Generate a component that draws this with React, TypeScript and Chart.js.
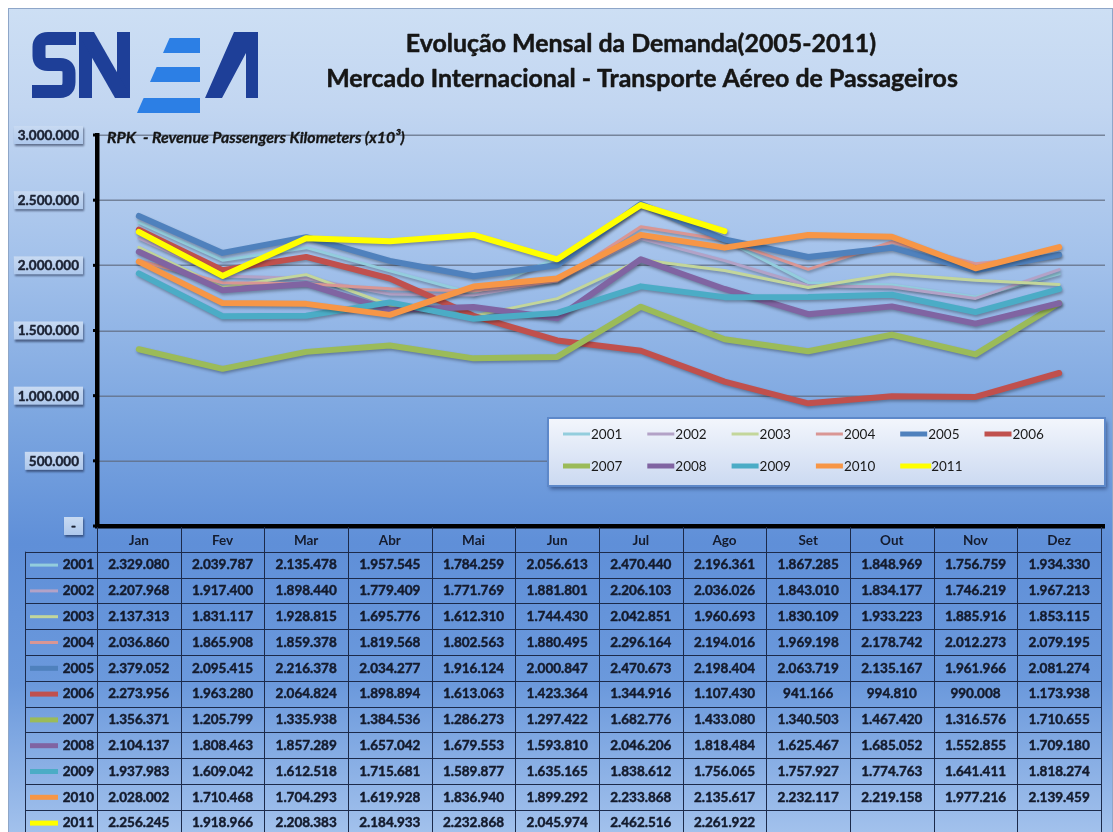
import React, { useEffect, useRef } from "react";
import { Chart, registerables } from "chart.js";

Chart.register(...registerables);

// ---------- DATA ----------
const months = ["Jan", "Fev", "Mar", "Abr", "Mai", "Jun", "Jul", "Ago", "Set", "Out", "Nov", "Dez"];
const years = ["2001", "2002", "2003", "2004", "2005", "2006", "2007", "2008", "2009", "2010", "2011"];

const v2001 = [2329080, 2039787, 2135478, 1957545, 1784259, 2056613, 2470440, 2196361, 1867285, 1848969, 1756759, 1934330];
const v2002 = [2207968, 1917400, 1898440, 1779409, 1771769, 1881801, 2206103, 2036026, 1843010, 1834177, 1746219, 1967213];
const v2003 = [2137313, 1831117, 1928815, 1695776, 1612310, 1744430, 2042851, 1960693, 1830109, 1933223, 1885916, 1853115];
const v2004 = [2036860, 1865908, 1859378, 1819568, 1802563, 1880495, 2296164, 2194016, 1969198, 2178742, 2012273, 2079195];
const v2005 = [2379052, 2095415, 2216378, 2034277, 1916124, 2000847, 2470673, 2198404, 2063719, 2135167, 1961966, 2081274];
const v2006 = [2273956, 1963280, 2064824, 1898894, 1613063, 1423364, 1344916, 1107430, 941166, 994810, 990008, 1173938];
const v2007 = [1356371, 1205799, 1335938, 1384536, 1286273, 1297422, 1682776, 1433080, 1340503, 1467420, 1316576, 1710655];
const v2008 = [2104137, 1808463, 1857289, 1657042, 1679553, 1593810, 2046206, 1818484, 1625467, 1685052, 1552855, 1709180];
const v2009 = [1937983, 1609042, 1612518, 1715681, 1589877, 1635165, 1838612, 1756065, 1757927, 1774763, 1641411, 1818274];
const v2010 = [2028002, 1710468, 1704293, 1619928, 1836940, 1899292, 2233868, 2135617, 2232117, 2219158, 1977216, 2139459];
const v2011 = [2256245, 1918966, 2208383, 2184933, 2232868, 2045974, 2462516, 2261922, null, null, null, null];

const seriesValues = [v2001, v2002, v2003, v2004, v2005, v2006, v2007, v2008, v2009, v2010, v2011];

const yMin = 0;
const yMax = 3000000;
const yStep = 500000;

const titleLines = [
  "Evolução Mensal da Demanda(2005-2011)",
  "Mercado Internacional - Transporte Aéreo de Passageiros",
];
const subtitleText = "RPK  - Revenue Passengers Kilometers (x10³)";

// ---------- STYLES ----------
const seriesColors = [
  "#93CDDD", "#B3A2C7", "#C3D69B", "#D99694", "#4F81BD", "#C0504D",
  "#9BBB59", "#8064A2", "#4BACC6", "#F79646", "#FFFF00",
];
const seriesWidths = [3, 3, 3, 3, 6, 6, 6, 6, 6, 6, 6];

const FONT = "Lato, 'Open Sans', 'DejaVu Sans', sans-serif";
const W = 1105;
const H = 824;

const fmt = (n: number) => String(Math.round(n)).replace(/\B(?=(\d{3})+(?!\d))/g, ".");

// draw text slightly heavier (approximates the chunky Calibri bold of the original)
function heavyText(ctx: CanvasRenderingContext2D, s: string, x: number, y: number, w = 0.45) {
  ctx.fillText(s, x, y);
  ctx.save();
  ctx.strokeStyle = ctx.fillStyle as string;
  ctx.lineWidth = w;
  ctx.lineJoin = "round";
  ctx.strokeText(s, x, y);
  ctx.restore();
}

function drawLogo(ctx: CanvasRenderingContext2D) {
  const dark = "#1e3f98";
  const light = "#2c7fe5";
  ctx.save();
  ctx.translate(-8, -8);
  // S
  ctx.strokeStyle = dark;
  ctx.lineWidth = 13;
  ctx.lineJoin = "round";
  ctx.lineCap = "butt";
  ctx.beginPath();
  ctx.moveTo(76, 38.5);
  ctx.lineTo(48, 38.5);
  ctx.quadraticCurveTo(39, 38.5, 39, 47);
  ctx.lineTo(39, 56);
  ctx.quadraticCurveTo(39, 64.5, 48, 64.5);
  ctx.lineTo(60, 64.5);
  ctx.quadraticCurveTo(69, 64.5, 69, 73);
  ctx.lineTo(69, 82);
  ctx.quadraticCurveTo(69, 91.5, 60, 91.5);
  ctx.lineTo(32, 91.5);
  ctx.stroke();
  // N
  ctx.fillStyle = dark;
  ctx.fillRect(79, 32, 13, 66);
  ctx.fillRect(117, 32, 13, 66);
  ctx.beginPath();
  ctx.moveTo(79, 32);
  ctx.lineTo(94, 32);
  ctx.lineTo(130, 95);
  ctx.lineTo(130, 98);
  ctx.lineTo(115, 98);
  ctx.lineTo(79, 35);
  ctx.closePath();
  ctx.fill();
  // E bars
  ctx.fillStyle = light;
  const bars = [
    [38, 163],
    [67, 150],
    [98, 137],
  ];
  bars.forEach(([y, xl]) => {
    ctx.beginPath();
    ctx.moveTo(xl + 6.6, y);
    ctx.lineTo(200, y);
    ctx.lineTo(200, y + 15);
    ctx.lineTo(xl, y + 15);
    ctx.closePath();
    ctx.fill();
  });
  // Λ
  ctx.fillStyle = dark;
  ctx.beginPath();
  ctx.moveTo(234, 32);
  ctx.lineTo(258, 32);
  ctx.lineTo(258, 98);
  ctx.lineTo(246, 98);
  ctx.lineTo(246, 53);
  ctx.lineTo(222, 98);
  ctx.lineTo(205, 98);
  ctx.closePath();
  ctx.fill();
  ctx.restore();
}

const decorPlugin = {
  id: "decor",
  beforeDraw(chart: any) {
    const ctx: CanvasRenderingContext2D = chart.ctx;
    ctx.save();
    const g = ctx.createLinearGradient(0, 0, 0, H);
    g.addColorStop(0, "#cddff4");
    g.addColorStop(0.12, "#c2d6f1");
    g.addColorStop(0.3, "#a4c2eb");
    g.addColorStop(0.5, "#7ca6e0");
    g.addColorStop(0.65, "#5f8fd8");
    g.addColorStop(0.82, "#6b99dc");
    g.addColorStop(1, "#a2c1ec");
    ctx.fillStyle = g;
    ctx.fillRect(0, 0, W, H);
    ctx.strokeStyle = "#8ea6c8";
    ctx.lineWidth = 1;
    ctx.strokeRect(0.5, 0.5, W - 1, H);
    ctx.restore();

    drawLogo(ctx);

    // Titles
    ctx.save();
    ctx.font = `bold 100px ${FONT}`;
    const w2 = ctx.measureText(titleLines[1]).width;
    const size = (100 * 632) / w2;
    ctx.font = `bold ${size.toFixed(2)}px ${FONT}`;
    ctx.fillStyle = "#161616";
    ctx.textAlign = "center";
    ctx.textBaseline = "middle";
    heavyText(ctx, titleLines[0], 633, 36, 0.5);
    heavyText(ctx, titleLines[1], 634, 71, 0.5);
    ctx.restore();
  },
  beforeDatasetsDraw(chart: any) {
    const ctx: CanvasRenderingContext2D = chart.ctx;
    const y = chart.scales.y;
    const area = chart.chartArea;
    ctx.save();
    ctx.strokeStyle = "rgba(95,105,125,0.75)";
    ctx.lineWidth = 1.5;
    y.ticks.forEach((t: any) => {
      if (t.value === 0) return;
      const py = Math.round(y.getPixelForValue(t.value)) + 0.25;
      ctx.beginPath();
      ctx.moveTo(area.left, py);
      ctx.lineTo(1097, py);
      ctx.stroke();
    });
    // subtitle
    ctx.font = `italic bold 100px ${FONT}`;
    const sw = ctx.measureText(subtitleText).width;
    const ss = (100 * 298) / sw;
    ctx.font = `italic bold ${ss.toFixed(2)}px ${FONT}`;
    ctx.fillStyle = "#151515";
    ctx.textBaseline = "middle";
    ctx.textAlign = "left";
    heavyText(ctx, subtitleText, 99, 130, 0.3);
    ctx.restore();
  },
  beforeDatasetDraw(chart: any) {
    const ctx: CanvasRenderingContext2D = chart.ctx;
    ctx.save();
    ctx.shadowColor = "rgba(0,0,0,0.3)";
    ctx.shadowBlur = 3;
    ctx.shadowOffsetX = 1;
    ctx.shadowOffsetY = 2;
  },
  afterDatasetDraw(chart: any) {
    chart.ctx.restore();
  },
  afterDatasetsDraw(chart: any) {
    const ctx: CanvasRenderingContext2D = chart.ctx;
    const y = chart.scales.y;
    const x = chart.scales.x;
    const area = chart.chartArea;
    ctx.save();

    // Y tick label boxes
    ctx.font = `bold 13.5px ${FONT}`;
    y.ticks.forEach((t: any) => {
      const py = y.getPixelForValue(t.value);
      const label = t.value === 0 ? "-" : fmt(t.value);
      const tw = ctx.measureText(label).width;
      const bw = t.value === 0 ? 19 : tw + 8;
      const bx = 75 - bw;
      const by = py - 9;
      ctx.save();
      ctx.shadowColor = "rgba(20,30,60,0.55)";
      ctx.shadowBlur = 2;
      ctx.shadowOffsetX = 1;
      ctx.shadowOffsetY = 2;
      const bg = ctx.createLinearGradient(0, by, 0, by + 18);
      bg.addColorStop(0, "#c8daf2");
      bg.addColorStop(1, "#aec8ec");
      ctx.fillStyle = bg;
      ctx.fillRect(bx, by, bw, 18);
      ctx.restore();
      ctx.fillStyle = "#1b2233";
      ctx.textAlign = "center";
      ctx.textBaseline = "middle";
      heavyText(ctx, label, bx + bw / 2, py + 0.5);
      // small tick mark on axis
      ctx.fillStyle = "#000";
      ctx.fillRect(area.left - 4, py - 1.5, 4, 3);
    });

    // Axis lines
    ctx.fillStyle = "#000";
    ctx.fillRect(area.left - 2, area.top - 2, 4.5, area.bottom - area.top + 4);
    ctx.fillRect(area.left - 2, area.bottom - 2, 1097 - area.left + 2, 4.5);

    // Legend box
    const lx = 540, ly = 410, lw = 557, lh = 68;
    ctx.save();
    ctx.shadowColor = "rgba(10,25,70,0.5)";
    ctx.shadowBlur = 4;
    ctx.shadowOffsetX = 2;
    ctx.shadowOffsetY = 3;
    const lg = ctx.createLinearGradient(0, ly, 0, ly + lh);
    lg.addColorStop(0, "#f3f6fc");
    lg.addColorStop(1, "#cbd9f1");
    ctx.fillStyle = lg;
    ctx.fillRect(lx, ly, lw, lh);
    ctx.restore();
    ctx.strokeStyle = "#5d88c9";
    ctx.lineWidth = 2;
    ctx.strokeRect(lx, ly, lw, lh);

    ctx.font = `13.5px ${FONT}`;
    ctx.textAlign = "left";
    ctx.textBaseline = "middle";
    chart.data.datasets.forEach((ds: any, i: number) => {
      const col = i % 6;
      const row = Math.floor(i / 6);
      const x0 = 555 + col * 84.3;
      const yy = 426 + row * 32;
      ctx.fillStyle = ds.borderColor;
      const th = ds.borderWidth > 4 ? 5 : 3;
      ctx.fillRect(x0, yy - th / 2, i === 10 ? 31 : 27, th);
      ctx.fillStyle = "#1a1a1a";
      ctx.fillText(ds.label, x0 + (i === 10 ? 31 : 28), yy + 0.5);
    });

    // Data table
    const colW = x.getPixelForValue(1) - x.getPixelForValue(0);
    const left = area.left;
    const right = left + 12 * colW;
    const hdrTop = area.bottom + 1;
    const hdrBot = 543.7;
    const rowH = 25.8;
    const tabLeft = 17;
    ctx.strokeStyle = "#1c2a4a";
    ctx.lineWidth = 1;
    for (let i = 0; i <= 12; i++) {
      const px = Math.round(left + i * colW) + 0.5;
      ctx.beginPath();
      ctx.moveTo(px, hdrTop);
      ctx.lineTo(px, H);
      ctx.stroke();
    }
    ctx.beginPath();
    ctx.moveTo(tabLeft + 0.5, hdrBot);
    ctx.lineTo(tabLeft + 0.5, H);
    ctx.stroke();
    for (let k = 0; k <= years.length; k++) {
      const py = Math.round(hdrBot + k * rowH) + 0.5;
      ctx.beginPath();
      ctx.moveTo(tabLeft, py);
      ctx.lineTo(right, py);
      ctx.stroke();
    }

    ctx.fillStyle = "#141b2d";
    ctx.textAlign = "center";
    ctx.textBaseline = "middle";
    ctx.font = `bold 13.5px ${FONT}`;
    months.forEach((m, i) => {
      ctx.fillText(m, x.getPixelForValue(i), (hdrTop + hdrBot) / 2 + 1);
    });

    chart.data.datasets.forEach((ds: any, r: number) => {
      const cy = hdrBot + r * rowH + rowH / 2 + 0.5;
      // legend key
      ctx.fillStyle = ds.borderColor;
      const th = ds.borderWidth > 4 ? 5 : 3;
      ctx.fillRect(22, cy - th / 2, 28, th);
      ctx.fillStyle = "#141b2d";
      ctx.textAlign = "right";
      heavyText(ctx, ds.label, 86, cy);
      ctx.textAlign = "center";
      ds.data.forEach((v: number | null, i: number) => {
        if (v == null) return;
        heavyText(ctx, fmt(v), x.getPixelForValue(i), cy);
      });
    });

    ctx.restore();
  },
};

export default function App() {
  const ref = useRef<HTMLCanvasElement | null>(null);

  useEffect(() => {
    if (!ref.current) return;
    const chart = new Chart(ref.current, {
      type: "line",
      data: {
        labels: months,
        datasets: years.map((y, i) => ({
          label: y,
          data: seriesValues[i],
          borderColor: seriesColors[i],
          backgroundColor: seriesColors[i],
          borderWidth: seriesWidths[i],
          pointRadius: 0,
          pointHoverRadius: 0,
          tension: 0,
          fill: false,
          spanGaps: false,
          borderJoinStyle: "round" as const,
          borderCapStyle: "round" as const,
          order: years.length - 1 - i,
        })),
      },
      options: {
        responsive: false,
        animation: false,
        devicePixelRatio: 1,
        layout: { padding: { left: 89, top: 127, right: 12, bottom: 306 } },
        scales: {
          x: { display: false, offset: true },
          y: { display: false, min: yMin, max: yMax, ticks: { stepSize: yStep } },
        },
        plugins: {
          legend: { display: false },
          title: { display: false },
          tooltip: { enabled: false },
        },
      },
      plugins: [decorPlugin],
    });
    return () => chart.destroy();
  }, []);

  return (
    <div style={{ position: "fixed", left: 8, top: 8, width: W, height: H }}>
      <canvas ref={ref} width={W} height={H} style={{ display: "block" }} />
    </div>
  );
}
